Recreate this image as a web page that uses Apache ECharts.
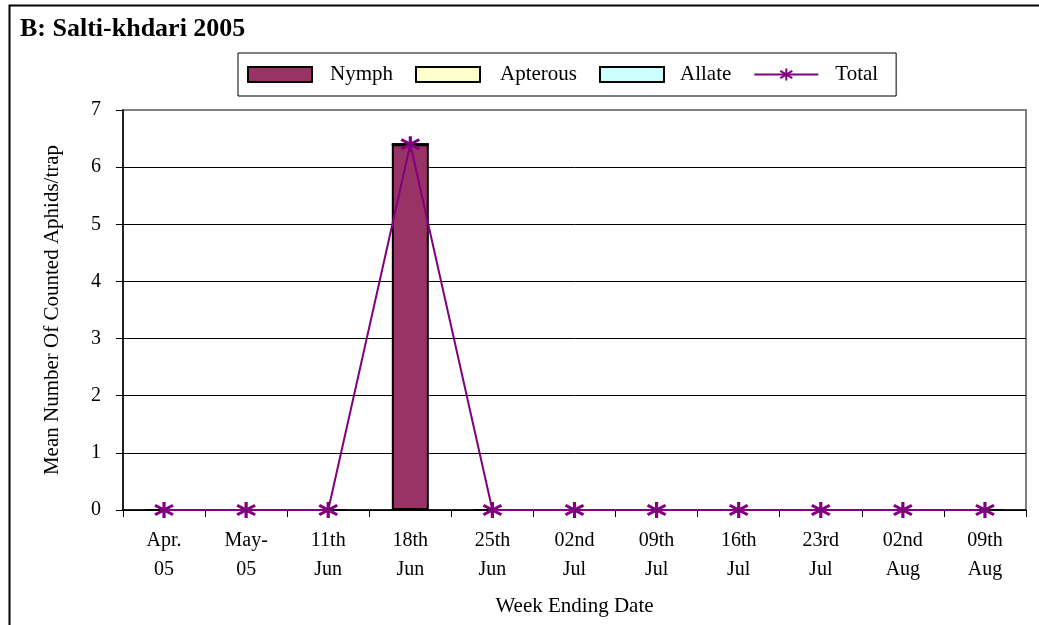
<!DOCTYPE html>
<html>
<head>
<meta charset="utf-8">
<script src="https://cdn.jsdelivr.net/npm/echarts@6/dist/echarts.min.js"></script>
<style>
  html, body { margin: 0; padding: 0; background: #fff; }
  #chart { width: 1039px; height: 625px; }
</style>
</head>
<body>
<div id="chart"></div>
<script>
// Weekly aphid counts, Salti-khdari 2005
var weeks = ['Apr.\n05', 'May-\n05', '11th\nJun', '18th\nJun', '25th\nJun', '02nd\nJul',
             '09th\nJul', '16th\nJul', '23rd\nJul', '02nd\nAug', '09th\nAug'];
var nymph    = [0, 0, 0, 6.4, 0, 0, 0, 0, 0, 0, 0];
var apterous = [0, 0, 0, 0, 0, 0, 0, 0, 0, 0, 0];
var allate   = [0, 0, 0, 0, 0, 0, 0, 0, 0, 0, 0];
var total    = [0, 0, 0, 6.4, 0, 0, 0, 0, 0, 0, 0];
var yTicks   = [0, 1, 2, 3, 4, 5, 6, 7];

var serif = '"Liberation Serif", "Times New Roman", serif';
// asterisk marker: vertical bar crossed by an X
var starPath = 'path://M0,-10L0,10M-9,-6L9,6M-9,6L9,-6';

// space between each legend icon and its label
var legendSlots = { Nymph: 'a', Apterous: 'b', Allate: 'c', Total: 'd' };
function slot(padLeft) {
  return { fontFamily: serif, fontSize: 21, color: '#000', padding: [0, 0, 0, padLeft] };
}

var chart = echarts.init(document.getElementById('chart'), null, { renderer: 'canvas' });
chart.setOption({
  animation: false,
  backgroundColor: '#fff',
  title: {
    text: 'B: Salti-khdari 2005',
    left: 15, top: 11,
    textStyle: { fontFamily: serif, fontWeight: 'bold', fontSize: 26, color: '#000' }
  },
  graphic: [{
    type: 'rect',
    shape: { x: 9.5, y: 5.5, width: 1100, height: 700 },
    style: { fill: 'none', stroke: '#000', lineWidth: 2 },
    silent: true, z: 100
  }],
  legend: {
    left: 238, top: 53,
    padding: [11, 18, 11, 9],
    itemWidth: 64, itemHeight: 15, itemGap: 22,
    borderColor: '#000', borderWidth: 1,
    formatter: function (name) { return '{' + legendSlots[name] + '|' + name + '}'; },
    textStyle: {
      fontFamily: serif, fontSize: 21, color: '#000',
      rich: { a: slot(13), b: slot(15), c: slot(11), d: slot(12) }
    },
    data: [
      { name: 'Nymph', icon: 'rect' },
      { name: 'Apterous', icon: 'rect' },
      { name: 'Allate', icon: 'rect' },
      { name: 'Total' }
    ]
  },
  grid: {
    left: 123, right: 13, top: 110, bottom: 115,
    outerBoundsMode: 'none',
    show: true, borderColor: '#808080', borderWidth: 2, backgroundColor: 'transparent'
  },
  xAxis: {
    type: 'category',
    data: weeks,
    boundaryGap: true,
    axisLine: { lineStyle: { color: '#000', width: 1.5 } },
    axisTick: { show: true, length: 7, lineStyle: { color: '#000' } },
    axisLabel: { fontFamily: serif, fontSize: 20, color: '#000', margin: 16, lineHeight: 29, interval: 0 },
    name: 'Week Ending Date',
    nameLocation: 'middle',
    nameGap: 86,
    nameTextStyle: { fontFamily: serif, fontSize: 21, color: '#000' }
  },
  yAxis: {
    type: 'value',
    min: yTicks[0], max: yTicks[yTicks.length - 1], interval: 1,
    axisLine: { show: true, lineStyle: { color: '#000', width: 1.5 } },
    axisTick: { show: true, length: 7, lineStyle: { color: '#000' } },
    axisLabel: { fontFamily: serif, fontSize: 20, color: '#000', margin: 22 },
    splitLine: { show: true, lineStyle: { color: ['#000', '#000', '#000', '#000', '#000', '#000', '#000', '#808080'], width: 1 } },
    name: 'Mean Number Of Counted Aphids/trap',
    nameLocation: 'middle',
    nameGap: 60,
    nameTextStyle: { fontFamily: serif, fontSize: 21, color: '#000' }
  },
  series: [
    {
      name: 'Nymph', type: 'bar', stack: 'aphids', barWidth: 37,
      data: nymph,
      itemStyle: { color: '#993366', borderColor: '#000', borderWidth: 2 }
    },
    {
      name: 'Apterous', type: 'bar', stack: 'aphids', barWidth: 37,
      data: apterous,
      itemStyle: { color: '#FFFFCC', borderColor: '#000', borderWidth: 2 }
    },
    {
      name: 'Allate', type: 'bar', stack: 'aphids', barWidth: 37,
      data: allate,
      itemStyle: { color: '#CCFFFF', borderColor: '#000', borderWidth: 2 }
    },
    {
      name: 'Total', type: 'line', z: 10,
      data: total,
      symbol: starPath, symbolSize: [18, 16],
      lineStyle: { color: '#800080', width: 2 },
      itemStyle: { color: '#800080', borderColor: '#800080', borderWidth: 3 }
    }
  ]
});
</script>
</body>
</html>
